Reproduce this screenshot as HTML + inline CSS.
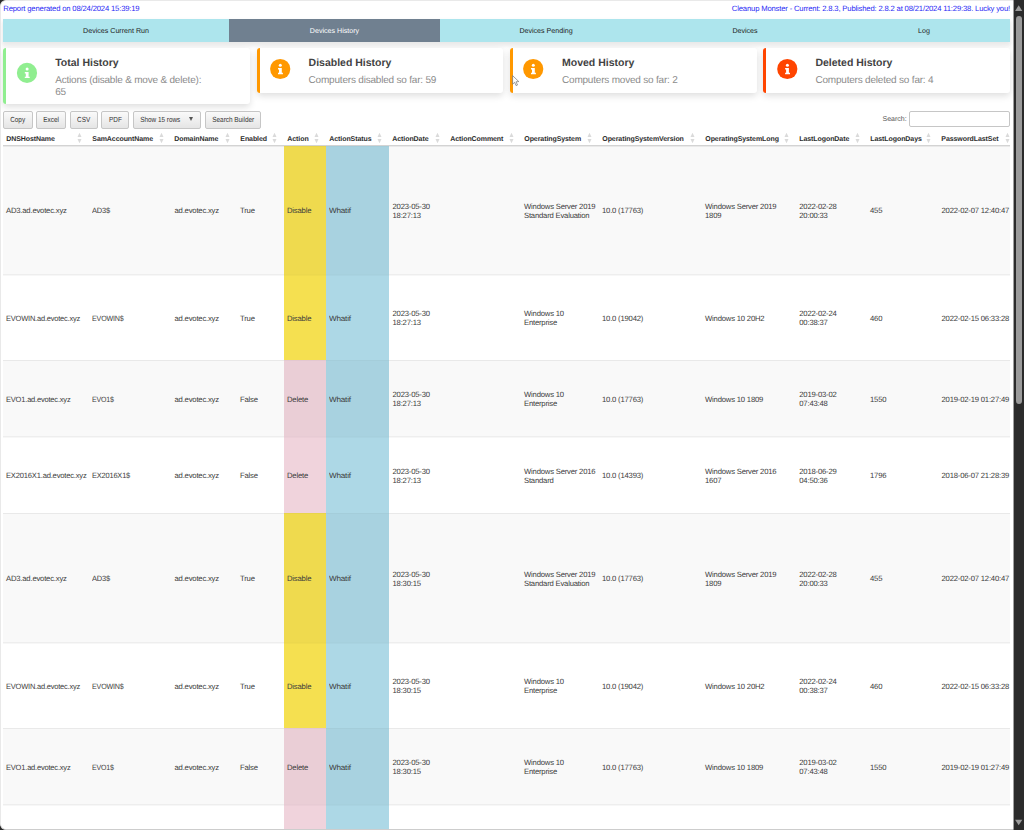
<!DOCTYPE html>
<html lang="en"><head><meta charset="utf-8"><title>Cleanup Monster</title>
<style>
html,body{margin:0;padding:0;width:1024px;height:830px;overflow:hidden;background:#2b2b2b;}
body{text-rendering:geometricPrecision;font-family:"Liberation Sans",sans-serif;color:#333;}
#win{position:absolute;left:0;top:0;width:1022px;height:828px;border:1px solid #e9e9e9;border-bottom-color:#cdcdcd;border-radius:6px;background:#fff;overflow:hidden;}
#win > *{position:absolute;}
.top{font-size:7.7px;color:#2a2af5;top:2.5px;height:10px;line-height:10px;white-space:nowrap;letter-spacing:-0.18px;}
#tl{left:2.3px;}
#tr{right:13px;}
#tabs{left:2px;top:18px;width:1007px;height:23px;background:#ade5ed;box-shadow:0 3px 4px 1px rgba(0,0,0,.085);}
#tabs div{position:absolute;top:0;height:23px;line-height:24.6px;text-align:center;font-size:7.1px;color:#222;}
#tabs .act{background:#708090;color:#fff;}
.card{top:47.4px;height:44.4px;width:243.7px;background:#fff;border-left:3px solid #f90;border-radius:3px;box-shadow:0 3px 7px rgba(0,0,0,.13);}
.ic{position:absolute;}
.card b{position:absolute;left:49px;top:8.7px;font-size:10.5px;line-height:12px;color:#424242;white-space:nowrap;}
.card p{position:absolute;left:49px;top:27.1px;margin:0;font-size:10px;letter-spacing:-0.2px;line-height:11.6px;color:#8c8c8c;white-space:nowrap;}
.btn{top:110.2px;height:15.5px;border:1px solid #c6c6c6;border-radius:2px;background:linear-gradient(#fafafa,#e5e5e5);font-size:7.4px;line-height:16.8px;text-align:center;color:#333;white-space:nowrap;}
#srch{top:114px;left:881.5px;font-size:7px;line-height:10px;color:#555;}
#sin{top:110px;left:908px;width:99.3px;height:14.4px;border:1px solid #c6c6c6;border-radius:2px;background:#fff;}
#tbl{left:2px;top:129px;width:1007px;height:700px;overflow:hidden;}
.thead{position:absolute;left:0;top:0;width:1007px;height:15px;border-bottom:1px solid #d3d3d3;}
.th{position:absolute;top:0;height:15px;line-height:20px;font-size:7px;letter-spacing:-0.08px;font-weight:bold;color:#2c2c2c;white-space:nowrap;box-sizing:border-box;padding-left:3.3px;}
.so{position:absolute;right:5px;top:2px;}
.tr{position:absolute;left:0;width:1014px;box-sizing:border-box;border-top:1px solid #e9e9e9;background:#fff;margin-top:16px;}
.tr.odd{background:#f9f9f9;}
.td{position:absolute;top:-1px;bottom:0;box-sizing:border-box;padding-top:0.4px;padding-left:3px;display:flex;align-items:center;font-size:7.7px;line-height:9px;color:#333;white-space:nowrap;letter-spacing:-0.2px;}
.td span{position:relative;top:1.5px;color:#3c3c3c;display:inline-block;transform-origin:0 50%;}
.td.dis span,.td.del span,.td.wif span{top:1px;}
.td.dis{background:#f5e050;}
.td.del{background:#f0d3dc;}
.td.wif{background:#add8e6;}
.tr.odd .td.dis,.tr.odd .td.del,.tr.odd .td.wif{box-shadow:inset 0 0 0 999px rgba(0,0,0,.025);}
.td.dis,.td.del,.td.wif{border-top:1px solid rgba(0,0,0,.05);}
#sb{position:absolute;left:1013px;top:0;width:11px;height:830px;background:linear-gradient(to right,rgba(43,43,43,.45) 0,rgba(43,43,43,.45) 1px,#2b2b2b 1px);}
#sb i{position:absolute;left:2.7px;top:15.8px;width:6.3px;height:388.2px;border-radius:3.2px;background:#9b9b9b;}
#sb svg{position:absolute;left:0;top:0;}
.btn span{display:inline-block;transform:scaleX(.865);transform-origin:50% 50%;}
.r1 .td span{top:0.5px;}
.r1 .td.dis span,.r1 .td.wif span{top:0px;}
.ev .td span{top:0.5px;}
.ev .td.dis span,.ev .td.del span,.ev .td.wif span{top:0px;}
.tr .td span.two{top:1px;}
.tr.ev .td span.two{top:1.3px;}
.tr.fr{border-top-color:#eee;box-shadow:inset 0 1px 0 rgba(0,0,0,.03);}
.tr.fr .td.dis,.tr.fr .td.del,.tr.fr .td.wif{border-top-color:rgba(0,0,0,.035);box-shadow:inset 0 1px 0 rgba(0,0,0,.018);}

</style></head>
<body>
<div id="win">
<div class="top" id="tl">Report generated on 08/24/2024 15:39:19</div>
<div class="top" id="tr">Cleanup Monster - Current: 2.8.3, Published: 2.8.2 at 08/21/2024 11:29:38. Lucky you!</div>
<div id="tabs">
<div style="left:0;width:226px">Devices Current Run</div>
<div class="act" style="left:226px;width:211px">Devices History</div>
<div style="left:437px;width:212px">Devices Pending</div>
<div style="left:649px;width:186px">Devices</div>
<div style="left:835px;width:172px">Log</div>
</div>
<div class="card" style="left:2.2px;height:55.5px;border-left-color:#90ee90">
<b>Total History</b><p>Actions (disable &amp; move &amp; delete):<br>65</p></div>
<div class="card" style="left:255.6px;border-left-color:#ff9800">
<b>Disabled History</b><p>Computers disabled so far: 59</p></div>
<div class="card" style="left:509px;border-left-color:#ff9800">
<b>Moved History</b><p>Computers moved so far: 2</p></div>
<div class="card" style="left:762.4px;border-left-color:#ff4500">
<b>Deleted History</b><p>Computers deleted so far: 4</p></div>
<svg class="ic" width="24" height="24" viewBox="0 0 24 24" style="left:14px;top:59px"><circle cx="12" cy="12.9" r="10.1" fill="#90ee90"/><circle cx="12.1" cy="9.1" r="1.5" fill="#fff"/><path d="M9.8 12H13.6V16.7H14.7V18.1H9.8V16.7H10.8V13.4H9.8z" fill="#fff"/></svg>
<svg class="ic" width="24" height="24" viewBox="0 0 24 24" style="left:267px;top:56px"><circle cx="12.2" cy="12" r="10.1" fill="#ff9800"/><circle cx="12.3" cy="8.2" r="1.5" fill="#fff"/><path d="M10 11.1H13.8V15.8H14.9V17.2H10V15.8H11V12.5H10z" fill="#fff"/></svg>
<svg class="ic" width="24" height="24" viewBox="0 0 24 24" style="left:520px;top:56px"><circle cx="12.2" cy="12" r="10.1" fill="#ff9800"/><circle cx="12.3" cy="8.2" r="1.5" fill="#fff"/><path d="M10 11.1H13.8V15.8H14.9V17.2H10V15.8H11V12.5H10z" fill="#fff"/></svg>
<svg class="ic" width="24" height="24" viewBox="0 0 24 24" style="left:774px;top:56px"><circle cx="12.3" cy="12" r="10.1" fill="#ff4500"/><circle cx="12.4" cy="8.2" r="1.5" fill="#fff"/><path d="M10.1 11.1H13.9V15.8H15V17.2H10.1V15.8H11.1V12.5H10.1z" fill="#fff"/></svg>
<div class="btn" style="left:2px;width:28px"><span>Copy</span></div>
<div class="btn" style="left:35px;width:28.4px"><span>Excel</span></div>
<div class="btn" style="left:69px;width:26px"><span>CSV</span></div>
<div class="btn" style="left:100px;width:26px"><span>PDF</span></div>
<div class="btn" style="left:131.7px;width:66.6px;text-align:left;text-indent:3.3px"><span style="text-indent:0">Show 15 rows</span><i style="position:absolute;left:55px;top:4.5px;border-left:2.7px solid transparent;border-right:2.7px solid transparent;border-top:4.6px solid #555"></i></div>
<div class="btn" style="left:204px;width:54.4px"><span>Search Builder</span></div>
<div id="srch">Search:</div>
<div id="sin"></div>
<div id="tbl">
<div class="thead">
<div class="th" style="left:0px;width:86px"><span>DNSHostName</span><svg class="so" width="8" height="12" viewBox="0 0 8 12"><path d="M1.5 4.9L3.5 0.8L5.5 4.9zM1.5 7L3.5 11.2L5.5 7z" fill="#dadada"/></svg></div>
<div class="th" style="left:86px;width:82px"><span>SamAccountName</span><svg class="so" width="8" height="12" viewBox="0 0 8 12"><path d="M1.5 4.9L3.5 0.8L5.5 4.9zM1.5 7L3.5 11.2L5.5 7z" fill="#dadada"/></svg></div>
<div class="th" style="left:168px;width:66px"><span>DomainName</span><svg class="so" width="8" height="12" viewBox="0 0 8 12"><path d="M1.5 4.9L3.5 0.8L5.5 4.9zM1.5 7L3.5 11.2L5.5 7z" fill="#dadada"/></svg></div>
<div class="th" style="left:234px;width:47px"><span>Enabled</span><svg class="so" width="8" height="12" viewBox="0 0 8 12"><path d="M1.5 4.9L3.5 0.8L5.5 4.9zM1.5 7L3.5 11.2L5.5 7z" fill="#dadada"/></svg></div>
<div class="th" style="left:281px;width:42px"><span>Action</span><svg class="so" width="8" height="12" viewBox="0 0 8 12"><path d="M1.5 4.9L3.5 0.8L5.5 4.9zM1.5 7L3.5 11.2L5.5 7z" fill="#dadada"/></svg></div>
<div class="th" style="left:323px;width:63px"><span>ActionStatus</span><svg class="so" width="8" height="12" viewBox="0 0 8 12"><path d="M1.5 4.9L3.5 0.8L5.5 4.9zM1.5 7L3.5 11.2L5.5 7z" fill="#dadada"/></svg></div>
<div class="th" style="left:386px;width:58px"><span>ActionDate</span><svg class="so" width="8" height="12" viewBox="0 0 8 12"><path d="M1.5 4.9L3.5 0.8L5.5 4.9zM1.5 7L3.5 11.2L5.5 7z" fill="#dadada"/></svg></div>
<div class="th" style="left:444px;width:74px"><span>ActionComment</span><svg class="so" width="8" height="12" viewBox="0 0 8 12"><path d="M1.5 4.9L3.5 0.8L5.5 4.9zM1.5 7L3.5 11.2L5.5 7z" fill="#dadada"/></svg></div>
<div class="th" style="left:518px;width:78px"><span>OperatingSystem</span><svg class="so" width="8" height="12" viewBox="0 0 8 12"><path d="M1.5 4.9L3.5 0.8L5.5 4.9zM1.5 7L3.5 11.2L5.5 7z" fill="#dadada"/></svg></div>
<div class="th" style="left:596px;width:103px"><span>OperatingSystemVersion</span><svg class="so" width="8" height="12" viewBox="0 0 8 12"><path d="M1.5 4.9L3.5 0.8L5.5 4.9zM1.5 7L3.5 11.2L5.5 7z" fill="#dadada"/></svg></div>
<div class="th" style="left:699px;width:94px"><span>OperatingSystemLong</span><svg class="so" width="8" height="12" viewBox="0 0 8 12"><path d="M1.5 4.9L3.5 0.8L5.5 4.9zM1.5 7L3.5 11.2L5.5 7z" fill="#dadada"/></svg></div>
<div class="th" style="left:793px;width:71px"><span>LastLogonDate</span><svg class="so" width="8" height="12" viewBox="0 0 8 12"><path d="M1.5 4.9L3.5 0.8L5.5 4.9zM1.5 7L3.5 11.2L5.5 7z" fill="#dadada"/></svg></div>
<div class="th" style="left:864px;width:71px"><span>LastLogonDays</span><svg class="so" width="8" height="12" viewBox="0 0 8 12"><path d="M1.5 4.9L3.5 0.8L5.5 4.9zM1.5 7L3.5 11.2L5.5 7z" fill="#dadada"/></svg></div>
<div class="th" style="left:935px;width:79px"><span>PasswordLastSet</span><svg class="so" width="8" height="12" viewBox="0 0 8 12"><path d="M1.5 4.9L3.5 0.8L5.5 4.9zM1.5 7L3.5 11.2L5.5 7z" fill="#dadada"/></svg></div>
</div>
<div class="tr odd r1" style="top:0px;height:128px">
<div class="td" style="left:0px;width:86px"><span>AD3.ad.evotec.xyz</span></div><div class="td" style="left:86px;width:82px"><span style="transform:scaleX(0.975)">AD3$</span></div><div class="td" style="left:168px;width:66px;padding-left:3.5px"><span>ad.evotec.xyz</span></div><div class="td" style="left:234px;width:47px"><span>True</span></div><div class="td dis" style="left:281px;width:42px"><span>Disable</span></div><div class="td wif" style="left:323px;width:63.4px"><span style="transform:scaleX(1.06)">Whatif</span></div><div class="td" style="left:386px;width:58px;padding-left:3.5px"><span class="two">2023-05-30<br>18:27:13</span></div><div class="td" style="left:444px;width:74px"><span></span></div><div class="td" style="left:518px;width:78px"><span class="two">Windows Server 2019<br>Standard Evaluation</span></div><div class="td" style="left:596px;width:103px"><span>10.0 (17763)</span></div><div class="td" style="left:699px;width:94px"><span class="two">Windows Server 2019<br>1809</span></div><div class="td" style="left:793px;width:71px;padding-left:3.3px"><span class="two">2022-02-28<br>20:00:33</span></div><div class="td" style="left:864px;width:71px"><span>455</span></div><div class="td" style="left:935px;width:79px;padding-left:3.5px"><span>2022-02-07 12:40:47</span></div>
</div>
<div class="tr fr" style="top:128px;height:86px">
<div class="td" style="left:0px;width:86px"><span style="transform:scaleX(0.971)">EVOWIN.ad.evotec.xyz</span></div><div class="td" style="left:86px;width:82px"><span style="transform:scaleX(0.927)">EVOWIN$</span></div><div class="td" style="left:168px;width:66px;padding-left:3.5px"><span>ad.evotec.xyz</span></div><div class="td" style="left:234px;width:47px"><span>True</span></div><div class="td dis" style="left:281px;width:42px"><span>Disable</span></div><div class="td wif" style="left:323px;width:63.4px"><span style="transform:scaleX(1.06)">Whatif</span></div><div class="td" style="left:386px;width:58px;padding-left:3.5px"><span class="two">2023-05-30<br>18:27:13</span></div><div class="td" style="left:444px;width:74px"><span></span></div><div class="td" style="left:518px;width:78px"><span class="two">Windows 10<br>Enterprise</span></div><div class="td" style="left:596px;width:103px"><span>10.0 (19042)</span></div><div class="td" style="left:699px;width:94px"><span>Windows 10 20H2</span></div><div class="td" style="left:793px;width:71px;padding-left:3.3px"><span class="two">2022-02-24<br>00:38:37</span></div><div class="td" style="left:864px;width:71px"><span>460</span></div><div class="td" style="left:935px;width:79px;padding-left:3.5px"><span>2022-02-15 06:33:28</span></div>
</div>
<div class="tr odd" style="top:214px;height:76px">
<div class="td" style="left:0px;width:86px"><span style="transform:scaleX(0.976)">EVO1.ad.evotec.xyz</span></div><div class="td" style="left:86px;width:82px"><span style="transform:scaleX(0.914)">EVO1$</span></div><div class="td" style="left:168px;width:66px;padding-left:3.5px"><span>ad.evotec.xyz</span></div><div class="td" style="left:234px;width:47px"><span>False</span></div><div class="td del" style="left:281px;width:42px"><span>Delete</span></div><div class="td wif" style="left:323px;width:63.4px"><span style="transform:scaleX(1.06)">Whatif</span></div><div class="td" style="left:386px;width:58px;padding-left:3.5px"><span class="two">2023-05-30<br>18:27:13</span></div><div class="td" style="left:444px;width:74px"><span></span></div><div class="td" style="left:518px;width:78px"><span class="two">Windows 10<br>Enterprise</span></div><div class="td" style="left:596px;width:103px"><span>10.0 (17763)</span></div><div class="td" style="left:699px;width:94px"><span>Windows 10 1809</span></div><div class="td" style="left:793px;width:71px;padding-left:3.3px"><span class="two">2019-03-02<br>07:43:48</span></div><div class="td" style="left:864px;width:71px"><span>1550</span></div><div class="td" style="left:935px;width:79px;padding-left:3.5px"><span>2019-02-19 01:27:49</span></div>
</div>
<div class="tr ev fr" style="top:290px;height:77px">
<div class="td" style="left:0px;width:86px"><span style="transform:scaleX(0.988)">EX2016X1.ad.evotec.xyz</span></div><div class="td" style="left:86px;width:82px"><span style="transform:scaleX(0.97)">EX2016X1$</span></div><div class="td" style="left:168px;width:66px;padding-left:3.5px"><span>ad.evotec.xyz</span></div><div class="td" style="left:234px;width:47px"><span>False</span></div><div class="td del" style="left:281px;width:42px"><span>Delete</span></div><div class="td wif" style="left:323px;width:63.4px"><span style="transform:scaleX(1.06)">Whatif</span></div><div class="td" style="left:386px;width:58px;padding-left:3.5px"><span class="two">2023-05-30<br>18:27:13</span></div><div class="td" style="left:444px;width:74px"><span></span></div><div class="td" style="left:518px;width:78px"><span class="two">Windows Server 2016<br>Standard</span></div><div class="td" style="left:596px;width:103px"><span>10.0 (14393)</span></div><div class="td" style="left:699px;width:94px"><span class="two">Windows Server 2016<br>1607</span></div><div class="td" style="left:793px;width:71px;padding-left:3.3px"><span class="two">2018-06-29<br>04:50:36</span></div><div class="td" style="left:864px;width:71px"><span>1796</span></div><div class="td" style="left:935px;width:79px;padding-left:3.5px"><span>2018-06-07 21:28:39</span></div>
</div>
<div class="tr odd ev" style="top:367px;height:129px">
<div class="td" style="left:0px;width:86px"><span>AD3.ad.evotec.xyz</span></div><div class="td" style="left:86px;width:82px"><span style="transform:scaleX(0.975)">AD3$</span></div><div class="td" style="left:168px;width:66px;padding-left:3.5px"><span>ad.evotec.xyz</span></div><div class="td" style="left:234px;width:47px"><span>True</span></div><div class="td dis" style="left:281px;width:42px"><span>Disable</span></div><div class="td wif" style="left:323px;width:63.4px"><span style="transform:scaleX(1.06)">Whatif</span></div><div class="td" style="left:386px;width:58px;padding-left:3.5px"><span class="two">2023-05-30<br>18:30:15</span></div><div class="td" style="left:444px;width:74px"><span></span></div><div class="td" style="left:518px;width:78px"><span class="two">Windows Server 2019<br>Standard Evaluation</span></div><div class="td" style="left:596px;width:103px"><span>10.0 (17763)</span></div><div class="td" style="left:699px;width:94px"><span class="two">Windows Server 2019<br>1809</span></div><div class="td" style="left:793px;width:71px;padding-left:3.3px"><span class="two">2022-02-28<br>20:00:33</span></div><div class="td" style="left:864px;width:71px"><span>455</span></div><div class="td" style="left:935px;width:79px;padding-left:3.5px"><span>2022-02-07 12:40:47</span></div>
</div>
<div class="tr fr" style="top:496px;height:86px">
<div class="td" style="left:0px;width:86px"><span style="transform:scaleX(0.971)">EVOWIN.ad.evotec.xyz</span></div><div class="td" style="left:86px;width:82px"><span style="transform:scaleX(0.927)">EVOWIN$</span></div><div class="td" style="left:168px;width:66px;padding-left:3.5px"><span>ad.evotec.xyz</span></div><div class="td" style="left:234px;width:47px"><span>True</span></div><div class="td dis" style="left:281px;width:42px"><span>Disable</span></div><div class="td wif" style="left:323px;width:63.4px"><span style="transform:scaleX(1.06)">Whatif</span></div><div class="td" style="left:386px;width:58px;padding-left:3.5px"><span class="two">2023-05-30<br>18:30:15</span></div><div class="td" style="left:444px;width:74px"><span></span></div><div class="td" style="left:518px;width:78px"><span class="two">Windows 10<br>Enterprise</span></div><div class="td" style="left:596px;width:103px"><span>10.0 (19042)</span></div><div class="td" style="left:699px;width:94px"><span>Windows 10 20H2</span></div><div class="td" style="left:793px;width:71px;padding-left:3.3px"><span class="two">2022-02-24<br>00:38:37</span></div><div class="td" style="left:864px;width:71px"><span>460</span></div><div class="td" style="left:935px;width:79px;padding-left:3.5px"><span>2022-02-15 06:33:28</span></div>
</div>
<div class="tr odd" style="top:582px;height:76px">
<div class="td" style="left:0px;width:86px"><span style="transform:scaleX(0.976)">EVO1.ad.evotec.xyz</span></div><div class="td" style="left:86px;width:82px"><span style="transform:scaleX(0.914)">EVO1$</span></div><div class="td" style="left:168px;width:66px;padding-left:3.5px"><span>ad.evotec.xyz</span></div><div class="td" style="left:234px;width:47px"><span>False</span></div><div class="td del" style="left:281px;width:42px"><span>Delete</span></div><div class="td wif" style="left:323px;width:63.4px"><span style="transform:scaleX(1.06)">Whatif</span></div><div class="td" style="left:386px;width:58px;padding-left:3.5px"><span class="two">2023-05-30<br>18:30:15</span></div><div class="td" style="left:444px;width:74px"><span></span></div><div class="td" style="left:518px;width:78px"><span class="two">Windows 10<br>Enterprise</span></div><div class="td" style="left:596px;width:103px"><span>10.0 (17763)</span></div><div class="td" style="left:699px;width:94px"><span>Windows 10 1809</span></div><div class="td" style="left:793px;width:71px;padding-left:3.3px"><span class="two">2019-03-02<br>07:43:48</span></div><div class="td" style="left:864px;width:71px"><span>1550</span></div><div class="td" style="left:935px;width:79px;padding-left:3.5px"><span>2019-02-19 01:27:49</span></div>
</div>
<div class="tr fr" style="top:658px;height:78px">
<div class="td" style="left:0px;width:86px"><span style="transform:scaleX(0.988)">EX2016X1.ad.evotec.xyz</span></div><div class="td" style="left:86px;width:82px"><span style="transform:scaleX(0.97)">EX2016X1$</span></div><div class="td" style="left:168px;width:66px;padding-left:3.5px"><span>ad.evotec.xyz</span></div><div class="td" style="left:234px;width:47px"><span>False</span></div><div class="td del" style="left:281px;width:42px"><span>Delete</span></div><div class="td wif" style="left:323px;width:63.4px"><span style="transform:scaleX(1.06)">Whatif</span></div><div class="td" style="left:386px;width:58px;padding-left:3.5px"><span class="two">2023-05-30<br>18:30:15</span></div><div class="td" style="left:444px;width:74px"><span></span></div><div class="td" style="left:518px;width:78px"><span class="two">Windows Server 2016<br>Standard</span></div><div class="td" style="left:596px;width:103px"><span>10.0 (14393)</span></div><div class="td" style="left:699px;width:94px"><span class="two">Windows Server 2016<br>1607</span></div><div class="td" style="left:793px;width:71px;padding-left:3.3px"><span class="two">2018-06-29<br>04:50:36</span></div><div class="td" style="left:864px;width:71px"><span>1796</span></div><div class="td" style="left:935px;width:79px;padding-left:3.5px"><span>2018-06-07 21:28:39</span></div>
</div>
</div>
</div>
<div id="sb"><i></i><svg width="11" height="830" viewBox="0 0 11 830"><path d="M2.1 10.9L5.7 5.2L9.3 10.9z" fill="#9b9b9b"/><path d="M2.1 819.7L5.7 825.3L9.3 819.7z" fill="#9b9b9b"/></svg></div>
<svg id="cur" width="9" height="12" viewBox="0 0 9 12" style="position:absolute;left:511.8px;top:74.6px"><path d="M0.6 0.6V9.2L2.6 7.3L4.1 10.6L5.5 10L4 6.8L6.8 6.6Z" fill="#fff" stroke="#666" stroke-width="0.65" stroke-linejoin="round"/></svg>
</body></html>
